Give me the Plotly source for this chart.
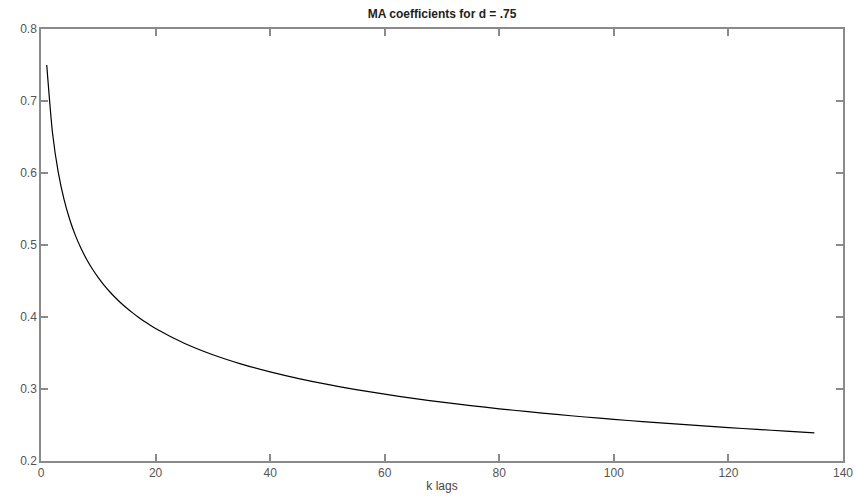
import plotly.graph_objects as go

# lag k
lags = [1, 2, 3, 4, 5, 6, 7, 8, 9, 10, 11, 12, 13, 14, 15, 16, 17, 18, 19, 20,
        25, 30, 35, 40, 45, 50, 55, 60, 65, 70, 75, 80, 85, 90, 95, 100,
        105, 110, 115, 120, 125, 130, 135]
# MA coefficient values
coefs = [0.7500, 0.6563, 0.6016, 0.5640, 0.5358, 0.5134, 0.4951, 0.4796, 0.4663, 0.4547,
         0.4443, 0.4351, 0.4267, 0.4191, 0.4121, 0.4057, 0.3997, 0.3941, 0.3890, 0.3841,
         0.3636, 0.3476, 0.3346, 0.3237, 0.3144, 0.3063, 0.2991, 0.2928, 0.2870, 0.2817,
         0.2770, 0.2725, 0.2685, 0.2647, 0.2611, 0.2578, 0.2547, 0.2518, 0.2490, 0.2464,
         0.2439, 0.2415, 0.2392]

x_ticks = [0, 20, 40, 60, 80, 100, 120, 140]
y_ticks = [0.2, 0.3, 0.4, 0.5, 0.6, 0.7, 0.8]
y_tick_text = ["0.2", "0.3", "0.4", "0.5", "0.6", "0.7", "0.8"]

fig = go.Figure()
fig.add_trace(go.Scatter(x=lags, y=coefs, mode="lines",
                         line=dict(color="black", width=1.2, shape="spline", smoothing=0.6),
                         hoverinfo="skip"))

axis_common = dict(showgrid=False, zeroline=False, showline=True, mirror="ticks",
                   linecolor="#8a8a8a", linewidth=1.5, ticks="inside", ticklen=7,
                   tickcolor="#8a8a8a", tickwidth=1.5, automargin=False,
                   ticklabeloverflow="allow",
                   tickfont=dict(family="Liberation Sans, Arial, sans-serif", size=12, color="#555555"))

fig.update_layout(
    width=855, height=496,
    margin=dict(l=41, r=12, t=29, b=35),
    plot_bgcolor="white", paper_bgcolor="white",
    showlegend=False,
    title=dict(text="<b>MA coefficients for d = .75</b>", x=0.517, xanchor="center",
               y=0.972, yanchor="middle",
               font=dict(family="Liberation Sans, Arial, sans-serif", size=12, color="#222222")),
    xaxis=dict(range=[0, 140], tickvals=x_ticks, ticktext=[str(t) for t in x_ticks],
               title=dict(text="k lags", standoff=2,
                          font=dict(family="Liberation Sans, Arial, sans-serif", size=12, color="#444444")),
               **axis_common),
    yaxis=dict(range=[0.2, 0.8], tickvals=y_ticks, ticktext=y_tick_text, **axis_common),
)

fig.write_html("out.html")
